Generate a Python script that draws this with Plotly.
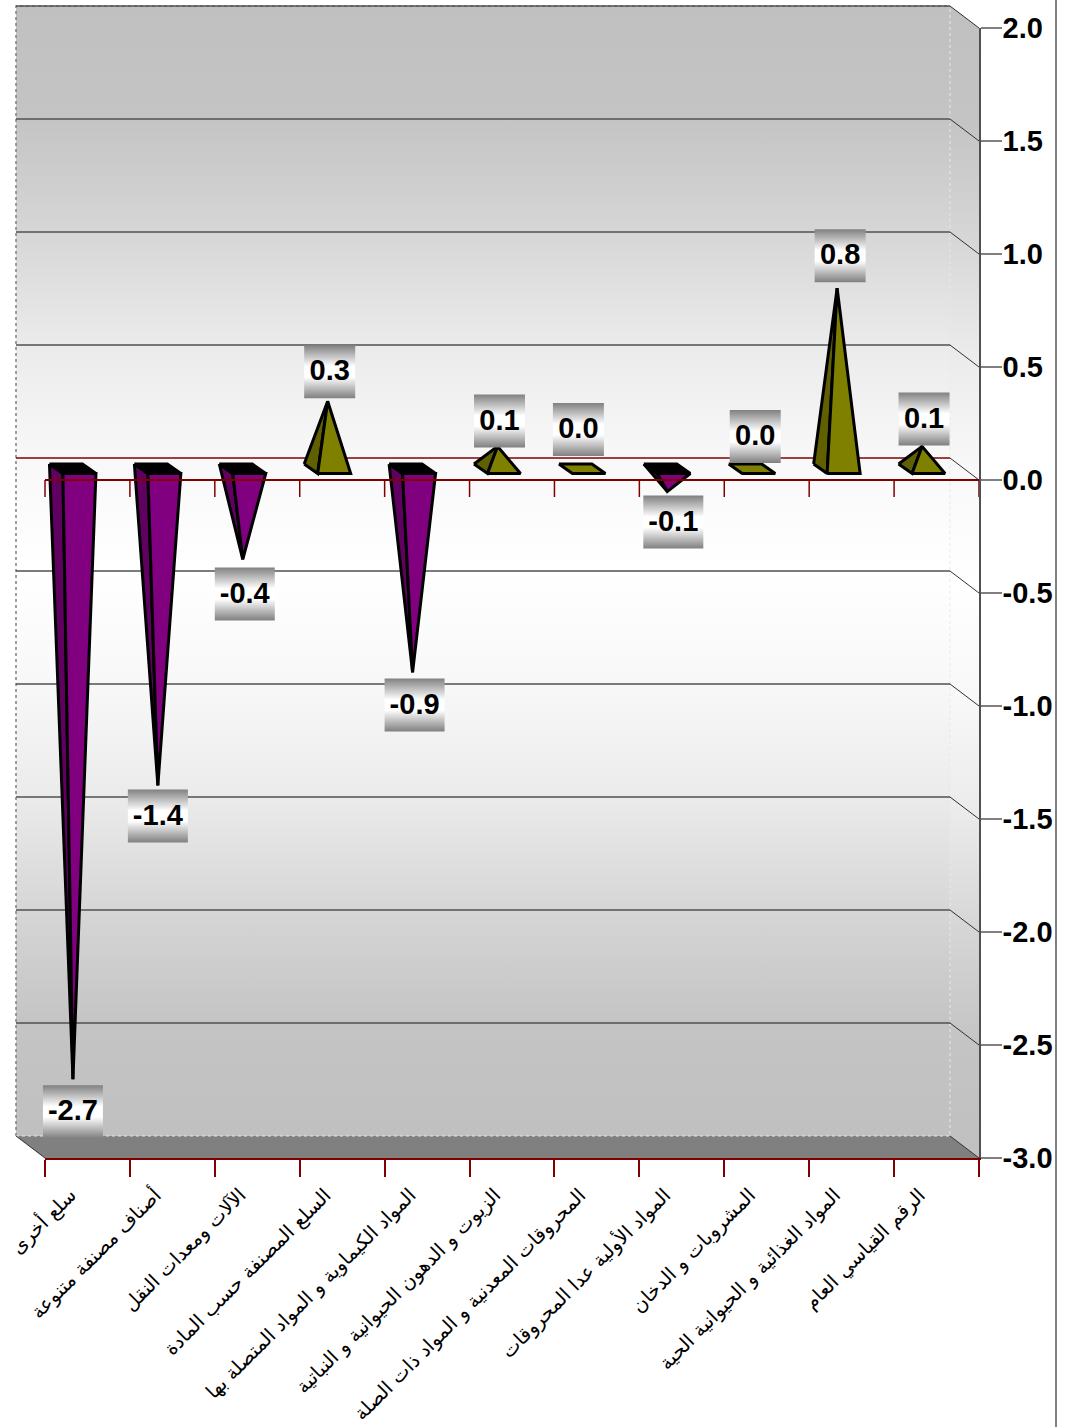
import plotly.graph_objects as go

# ---- data ----
categories = [
    "سلع أخرى",
    "أصناف مصنفة متنوعة",
    "الآلات ومعدات النقل",
    "السلع المصنفة حسب المادة",
    "المواد الكيماوية و المواد المتصلة بها",
    "الزيوت و الدهون الحيوانية و النباتية",
    "المحروقات المعدنية و المواد ذات الصلة",
    "المواد الأولية عدا المحروقات",
    "المشروبات و الدخان",
    "المواد الغذائية و الحيوانية الحية",
    "الرقم القياسي العام",
]
values = [-2.7, -1.4, -0.4, 0.3, -0.9, 0.1, 0.0, -0.1, 0.0, 0.8, 0.1]
y_ticks = [2.0, 1.5, 1.0, 0.5, 0.0, -0.5, -1.0, -1.5, -2.0, -2.5, -3.0]
y_tick_labels = ["2.0", "1.5", "1.0", "0.5", "0.0", "-0.5", "-1.0", "-1.5", "-2.0", "-2.5", "-3.0"]

# ---- styling / projection constants ----
L, R, T, B = 45, 979, 28, 1158
W, H = 1065, 1427
PX_X = 11 / (R - L)            # category units per pixel
PX_Y = 5 / (B - T)             # value units per pixel
DEPTH_X = -29 * PX_X           # back wall offset
DEPTH_Y = 22 * PX_Y
MID_X = DEPTH_X / 2
MID_Y = DEPTH_Y / 2
POS, POS_DARK = "#808000", "#606000"
NEG, NEG_DARK = "#800080", "#600060"
RED = "#800000"
WALL_SCALE = [[0, "#c0c0c0"], [0.1, "#c4c4c4"], [0.2, "#d6d6d6"], [0.3, "#ebebeb"], [0.4, "#f8f8f8"],
              [0.5, "#ffffff"], [0.6, "#f8f8f8"], [0.7, "#ebebeb"], [0.8, "#d6d6d6"], [0.9, "#c4c4c4"], [1, "#c0c0c0"]]
BOX_SCALE = [[0, "#808080"], [0.4, "#ffffff"], [0.6, "#ffffff"], [1, "#808080"]]
# small manual placement offsets of the value labels, as in the source chart (px)
label_nudge_x = [0, 0, 2, 2, 2, 2, -4, 6, 3, 3, 2]
label_gap = [6, 4, 8, 3, 6, -1, 13, 4, 6, 6, 1]

fig = go.Figure()


def poly(xs, ys, fill=None, line=None, width=0, grad=None):
    kw = dict(x=xs, y=ys, mode="lines", fill="toself", showlegend=False, hoverinfo="skip")
    kw["line"] = dict(color=line or "rgba(0,0,0,0)", width=width)
    if grad:
        kw["fillgradient"] = dict(type="vertical", colorscale=grad[0], start=grad[1], stop=grad[2])
    else:
        kw["fillcolor"] = fill
    fig.add_trace(go.Scatter(**kw))


def path(xs, ys, color, width, dash="solid"):
    fig.add_trace(go.Scatter(x=xs, y=ys, mode="lines", showlegend=False,
                             hoverinfo="skip", line=dict(color=color, width=width, dash=dash)))


ymin, ymax = y_ticks[-1], y_ticks[0]
n = len(categories)

# back wall
poly([DEPTH_X, n + DEPTH_X, n + DEPTH_X, DEPTH_X, DEPTH_X],
     [ymax + DEPTH_Y, ymax + DEPTH_Y, ymin + DEPTH_Y, ymin + DEPTH_Y, ymax + DEPTH_Y],
     grad=(WALL_SCALE, ymin + DEPTH_Y, ymax + DEPTH_Y))
# side wall
poly([n + DEPTH_X, n, n, n + DEPTH_X, n + DEPTH_X],
     [ymax + DEPTH_Y, ymax, ymin, ymin + DEPTH_Y, ymax + DEPTH_Y],
     grad=(WALL_SCALE, ymin, ymax + DEPTH_Y))
# floor
poly([DEPTH_X, n + DEPTH_X, n, 0, DEPTH_X],
     [ymin + DEPTH_Y, ymin + DEPTH_Y, ymin, ymin, ymin + DEPTH_Y], fill="#808080")

# wall edges
path([DEPTH_X, DEPTH_X, n + DEPTH_X], [ymin + DEPTH_Y, ymax + DEPTH_Y, ymax + DEPTH_Y], "#808080", 1.5, "dot")
path([DEPTH_X, n + DEPTH_X, n + DEPTH_X], [ymin + DEPTH_Y, ymin + DEPTH_Y, ymax + DEPTH_Y], "#e8e8e8", 1, "dot")

# gridlines: back wall + diagonal on the side wall
for t in y_ticks:
    if t != ymin:
        path([DEPTH_X, n + DEPTH_X], [t + DEPTH_Y, t + DEPTH_Y], RED if t == 0 else "#505050", 1.5)
    path([n + DEPTH_X, n], [t + DEPTH_Y, t], "#303030", 1)
path([DEPTH_X, 0], [ymin + DEPTH_Y, ymin], "#303030", 1)

# pyramids
FW, FS, BS, FD, BD = 33 * PX_X, 6.5 * PX_X, -7 * PX_X, -4.5 * PX_Y, 5 * PX_Y
OUT = 3
for i, v in enumerate(values):
    cx = i + 0.5 + MID_X
    base = MID_Y
    fl = (cx + FS - FW / 2, base + FD)
    fr = (cx + FS + FW / 2, base + FD)
    bl = (cx + BS - FW / 2, base + BD)
    br = (cx + BS + FW / 2, base + BD)
    tip = (cx, base + v)
    face, dark = (POS, POS_DARK) if v >= 0 else (NEG, NEG_DARK)
    if v < 0:
        poly([bl[0], fl[0], tip[0], bl[0]], [bl[1], fl[1], tip[1], bl[1]], dark, "#000000", OUT)
        poly([fl[0], fr[0], tip[0], fl[0]], [fl[1], fr[1], tip[1], fl[1]], face, "#000000", OUT)
        poly([bl[0], br[0], fr[0], fl[0], bl[0]], [bl[1], br[1], fr[1], fl[1], bl[1]], "#000000", "#000000", OUT)
    elif v == 0:
        poly([bl[0], br[0], fr[0], fl[0], bl[0]], [bl[1], br[1], fr[1], fl[1], bl[1]], face, "#000000", OUT)
    else:
        poly([bl[0], fl[0], tip[0], bl[0]], [bl[1], fl[1], tip[1], bl[1]], dark, "#000000", OUT)
        poly([fl[0], fr[0], tip[0], fl[0]], [fl[1], fr[1], tip[1], fl[1]], face, "#000000", OUT)

# category axis at the zero level (line over the pyramids, ticks below)
path([0, n], [0, 0], RED, 2)
tx, ty = [], []
for i in range(n + 1):
    tx += [i, i, None]
    ty += [0, -17 * PX_Y, None]
path(tx, ty, RED, 1.5)

# value labels
BOX_H = 53 * PX_Y
lab_x, lab_y, lab_t = [], [], []
for i, v in enumerate(values):
    text = f"{v:.1f}"
    bw = (60 if v < 0 else 51) * PX_X
    cx = i + 0.5 + MID_X + label_nudge_x[i] * PX_X
    tip = MID_Y + v
    if v < 0:
        y1 = tip - label_gap[i] * PX_Y
        y0 = y1 - BOX_H
    else:
        y0 = tip + label_gap[i] * PX_Y
        y1 = y0 + BOX_H
    poly([cx - bw / 2, cx + bw / 2, cx + bw / 2, cx - bw / 2, cx - bw / 2], [y1, y1, y0, y0, y1],
         grad=(BOX_SCALE, y0, y1))
    lab_x.append(cx)
    lab_y.append((y0 + y1) / 2 - 1.5 * PX_Y)
    lab_t.append(f"<b>{text}</b>")
fig.add_trace(go.Scatter(x=lab_x, y=lab_y, text=lab_t, mode="text", textposition="middle center",
                         showlegend=False, hoverinfo="skip",
                         textfont=dict(family="Liberation Sans", size=29, color="#000000")))

# carrier traces for the tick axes
fig.add_trace(go.Scatter(x=[0], y=[0], xaxis="x2", yaxis="y2", mode="none", showlegend=False, hoverinfo="skip"))
fig.add_trace(go.Scatter(x=[0], y=[0], xaxis="x3", yaxis="y2", mode="none", showlegend=False, hoverinfo="skip"))

dom_x = [L / W, R / W]
dom_y = [(H - B) / H, (H - T) / H]
fig.update_layout(
    width=W, height=H, autosize=False,
    margin=dict(l=0, r=0, t=0, b=0, pad=0),
    paper_bgcolor="white", plot_bgcolor="rgba(0,0,0,0)",
    # full-page drawing axes, same scale as the tick axes
    xaxis=dict(domain=[0, 1], range=[-L * PX_X, n + (W - R) * PX_X], visible=False, fixedrange=True),
    yaxis=dict(domain=[0, 1], range=[ymin - (H - B) * PX_Y, ymax + T * PX_Y], visible=False, fixedrange=True),
    xaxis2=dict(domain=dom_x, anchor="y2", range=[0, n], tickmode="array", tickvals=list(range(n + 1)),
                ticktext=[""] * (n + 1), ticks="outside", ticklen=17, tickwidth=1.5, tickcolor=RED,
                showgrid=False, zeroline=False, showline=True, linecolor=RED, linewidth=2, fixedrange=True),
    xaxis3=dict(domain=dom_x, range=[0, n], overlaying="x2", anchor="y2", side="bottom",
                tickmode="array", tickvals=[i + 0.30 for i in range(n)], ticktext=categories,
                tickangle=-45, ticks="outside", ticklen=17, tickwidth=0, tickcolor="rgba(0,0,0,0)",
                showgrid=False, zeroline=False, showline=False, automargin=False, fixedrange=True,
                tickfont=dict(family="DejaVu Sans", size=19.5, color="#000000")),
    yaxis2=dict(domain=dom_y, range=[ymin, ymax], side="right", anchor="x2", tickmode="array", tickvals=y_ticks,
                ticktext=[f"<b>{s}</b>" for s in y_tick_labels], ticks="outside", ticklen=21, tickwidth=2,
                ticklabelstandoff=-5,
                tickcolor="#808080", showgrid=False, zeroline=False, showline=True, linecolor="#505050",
                linewidth=1.5, automargin=False, fixedrange=True,
                tickfont=dict(family="Liberation Sans", size=29, color="#000000")),
    shapes=[dict(type="line", xref="paper", yref="paper", x0=1056 / W, x1=1056 / W,
                 y0=0, y1=1, line=dict(color="#808080", width=2))],
)

fig.write_html("out.html", config={"displayModeBar": False},
               post_script="document.body.style.margin='0';document.documentElement.style.overflow='hidden';")
